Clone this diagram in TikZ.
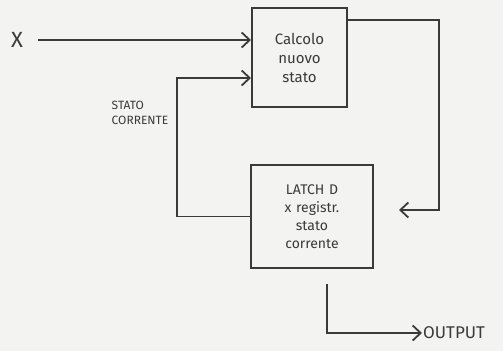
\documentclass[tikz,border=0pt]{standalone}
\usepackage{fontspec}
\setmainfont{Fira Sans}
\usetikzlibrary{arrows.meta}
\definecolor{pencil}{HTML}{3A3A3A}
\definecolor{paper}{HTML}{F3F3F1}
\tikzset{
  box/.style={draw=pencil, line width=2pt, text=pencil, inner sep=2pt},
  arr/.style={draw=pencil, line width=1.8pt, -{Straight Barb[length=8pt,width=15pt]}},
  lbl/.style={text=pencil, inner sep=1pt}
}
\begin{document}
\begin{tikzpicture}[x=1pt,y=-1pt]
\fill[paper] (0,0) rectangle (503,351);
\useasboundingbox (0,0) rectangle (503,351);
\node[box, minimum width=95pt, minimum height=99pt, align=center, font=\fontsize{15}{19}\selectfont] (top) at (299.5,57.5) {Calcolo\\nuovo\\stato};
\node[box, minimum width=122pt, minimum height=103pt, align=center, font=\fontsize{14}{18}\selectfont, text width=110pt] (latch) at (312,216.5) {LATCH D\\x registr.\\stato\\corrente};
\node[lbl, font=\fontsize{22}{22}\selectfont] (x) at (17,40) {X};
\node[lbl, align=left, font=\fontsize{12}{15}\selectfont] (sc) at (140,113) {STATO\\CORRENTE};
\node[lbl, anchor=west, font=\fontsize{17}{17}\selectfont] (out) at (422,333) {OUTPUT};
\draw[arr] ([xshift=14pt]x.east) -- (top.west |- x.east);
\draw[arr] (latch.west) -- ++(-73,0) |- ([yshift=-20.5pt]top.west);
\draw[arr, shorten >=25pt] ([yshift=37.5pt]top.east) -- ++(91,0) |- ([yshift=6.5pt]latch.east);
\draw[arr, shorten <=15pt] ([xshift=15pt]latch.south) |- (out.west);
\end{tikzpicture}
\end{document}
